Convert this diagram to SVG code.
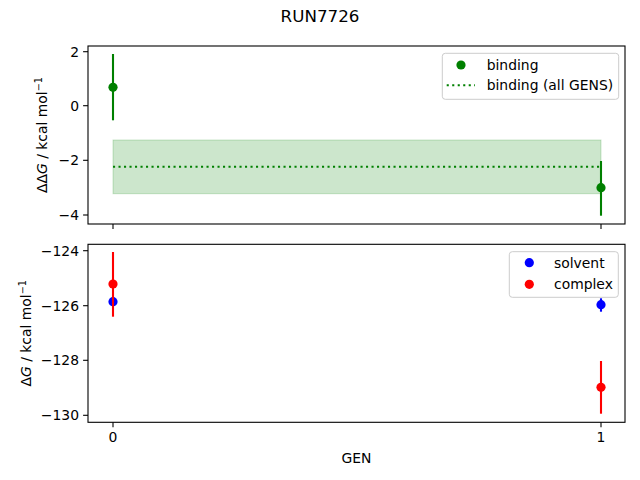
<svg xmlns="http://www.w3.org/2000/svg" width="640" height="480" viewBox="0 0 640 480">
<style>
text{font-family:"DejaVu Sans",sans-serif;font-size:13.9px;fill:#000}
.tl{text-anchor:end}
.tc{text-anchor:middle}
.ax{fill:none;stroke:#000;stroke-width:1.1}
.tick{stroke:#000;stroke-width:1.1}
.eg{stroke:#008000;stroke-width:2.1}
.eb{stroke:#0000ff;stroke-width:2.1}
.er{stroke:#ff0000;stroke-width:2.1}
.leg{fill:#fff;fill-opacity:0.8;stroke:#cccccc;stroke-width:1}
</style>
<rect width="640" height="480" fill="#fff"/>
<text id="title" x="320" y="22" class="tc" style="font-size:16.7px">RUN7726</text>

<g id="top-axes">
<rect x="113" y="140" width="488" height="53.7" fill="#008000" fill-opacity="0.2" stroke="#008000" stroke-opacity="0.2"/>
<line x1="113" y1="166.7" x2="601" y2="166.7" stroke="#008000" stroke-width="2.1" stroke-dasharray="2.1,3.4"/>
<line class="eg" x1="113" y1="54" x2="113" y2="120.3"/>
<circle cx="113" cy="87.3" r="4.6" fill="#008000"/>
<line class="eg" x1="601" y1="161" x2="601" y2="215.7"/>
<circle cx="601" cy="187.7" r="4.6" fill="#008000"/>
<rect class="ax" x="88" y="46" width="537" height="178"/>
<g class="tick">
<line x1="83.1" y1="51.7" x2="88" y2="51.7"/>
<line x1="83.1" y1="105.7" x2="88" y2="105.7"/>
<line x1="83.1" y1="160.3" x2="88" y2="160.3"/>
<line x1="83.1" y1="215" x2="88" y2="215"/>
<line x1="113" y1="224" x2="113" y2="228.9"/>
<line x1="601" y1="224" x2="601" y2="228.9"/>
</g>
<text class="tl" x="79" y="56.8">2</text>
<text class="tl" x="79" y="110.8">0</text>
<text class="tl" x="79" y="165.4">−2</text>
<text class="tl" x="79" y="220.1">−4</text>
<text transform="translate(47,135) rotate(-90)" class="tc">ΔΔ<tspan font-style="italic">G</tspan> / kcal mol<tspan dy="-5.5" style="font-size:9.7px">−1</tspan></text>
<g id="top-legend">
<rect class="leg" x="442.3" y="53.3" width="176.4" height="46" rx="3"/>
<circle cx="461" cy="65" r="4.6" fill="#008000"/>
<text x="486.7" y="70">binding</text>
<line x1="446.7" y1="85.3" x2="475" y2="85.3" stroke="#008000" stroke-width="2.1" stroke-dasharray="2.1,3.4"/>
<text x="486.7" y="90.3">binding (all GENS)</text>
</g>
</g>

<g id="bottom-axes">
<line class="eb" x1="113" y1="297.5" x2="113" y2="306"/>
<circle cx="113" cy="301.7" r="4.6" fill="#0000ff"/>
<line class="eb" x1="601" y1="298.3" x2="601" y2="311.7"/>
<circle cx="601" cy="304.7" r="4.6" fill="#0000ff"/>
<line class="er" x1="113" y1="252" x2="113" y2="316.7"/>
<circle cx="113" cy="284" r="4.6" fill="#ff0000"/>
<line class="er" x1="601" y1="361" x2="601" y2="413.7"/>
<circle cx="601" cy="387.3" r="4.6" fill="#ff0000"/>
<rect class="ax" x="88" y="244.3" width="537" height="178"/>
<g class="tick">
<line x1="83.1" y1="250.7" x2="88" y2="250.7"/>
<line x1="83.1" y1="305.7" x2="88" y2="305.7"/>
<line x1="83.1" y1="360.3" x2="88" y2="360.3"/>
<line x1="83.1" y1="415.3" x2="88" y2="415.3"/>
<line x1="113" y1="422.3" x2="113" y2="427.2"/>
<line x1="601" y1="422.3" x2="601" y2="427.2"/>
</g>
<text class="tl" x="79" y="255.8">−124</text>
<text class="tl" x="79" y="310.8">−126</text>
<text class="tl" x="79" y="365.4">−128</text>
<text class="tl" x="79" y="420.4">−130</text>
<text class="tc" x="113" y="442">0</text>
<text class="tc" x="601" y="442">1</text>
<text class="tc" x="356.5" y="462.5">GEN</text>
<text transform="translate(31,333.3) rotate(-90)" class="tc">Δ<tspan font-style="italic">G</tspan> / kcal mol<tspan dy="-5.5" style="font-size:9.7px">−1</tspan></text>
<g id="bottom-legend">
<rect class="leg" x="509.3" y="251.7" width="109" height="45.6" rx="3"/>
<circle cx="529.3" cy="262.7" r="4.6" fill="#0000ff"/>
<text x="554" y="267.7">solvent</text>
<circle cx="529.3" cy="284.3" r="4.6" fill="#ff0000"/>
<text x="554" y="288.5">complex</text>
</g>
</g>
</svg>
